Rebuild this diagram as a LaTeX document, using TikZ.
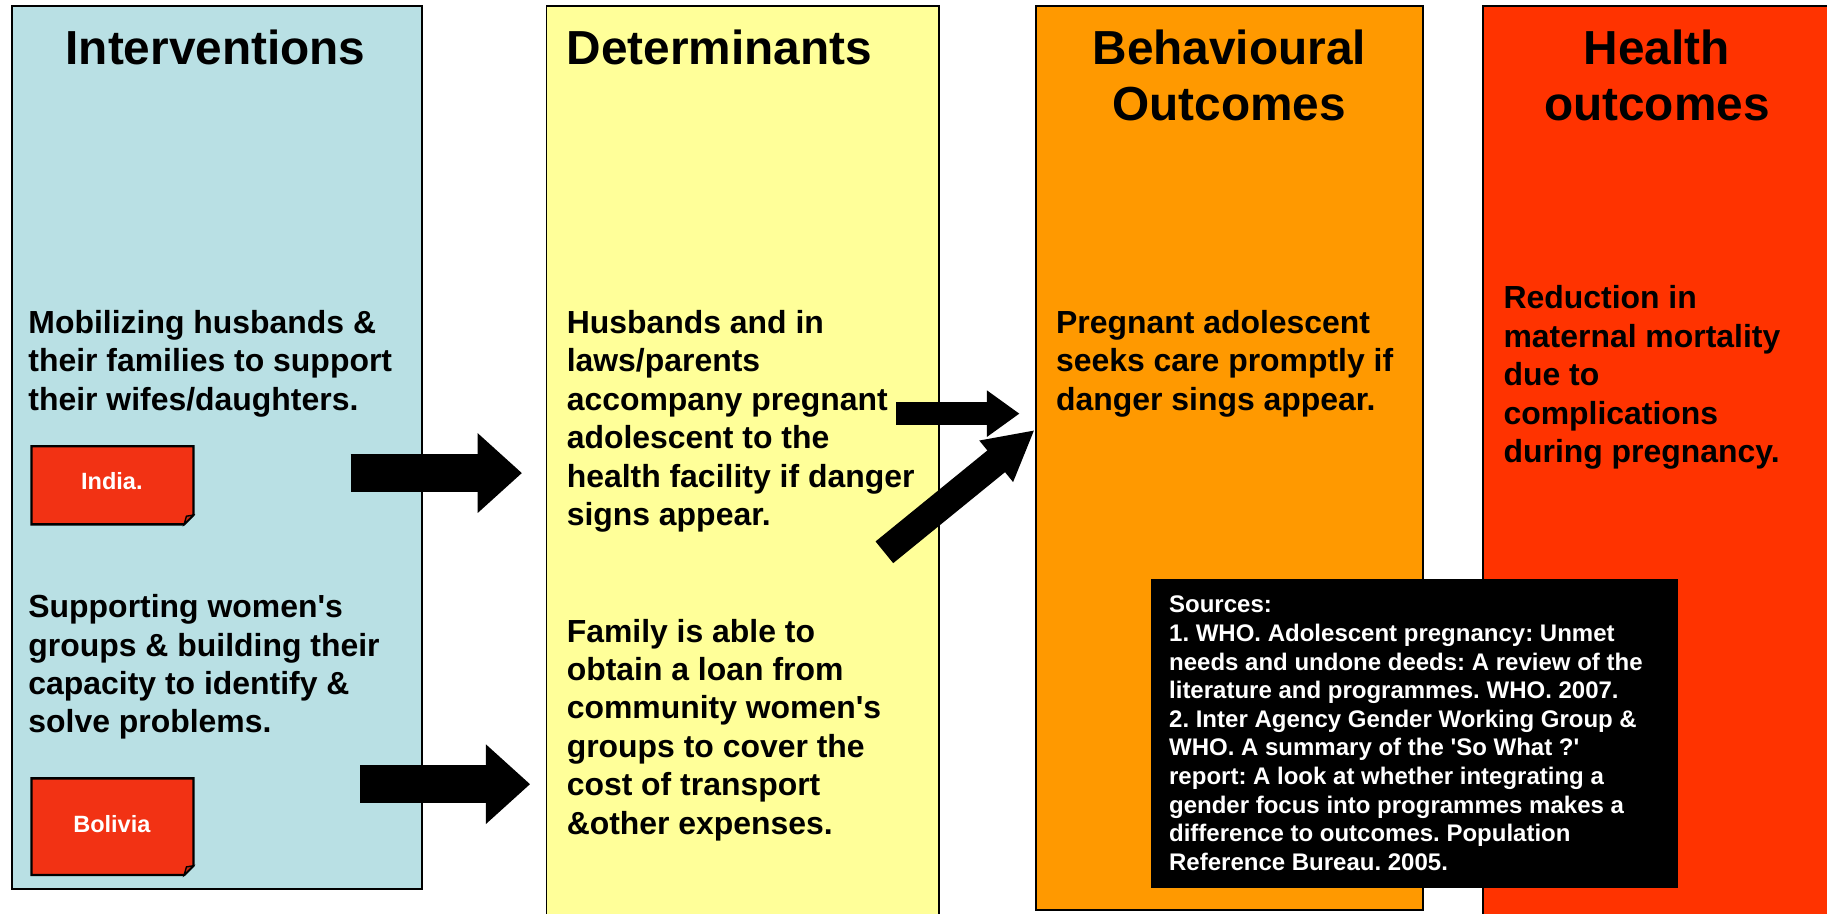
\documentclass[tikz,border=0pt]{standalone}
\usepackage{fontspec}
\setmainfont{Liberation Sans}
\usetikzlibrary{arrows.meta}
\definecolor{cblue}{HTML}{B9E0E4}
\definecolor{cyellow}{HTML}{FFFF99}
\definecolor{corange}{HTML}{FF9900}
\definecolor{cred}{HTML}{FF3300}
\definecolor{csticky}{HTML}{F23214}
\definecolor{cfold}{HTML}{C82810}
\frenchspacing
\begin{document}
\begin{tikzpicture}[x=0.5pt,y=-0.5pt,
  panel/.style={draw=black, line width=0.75pt, rectangle, inner sep=0pt},
  title/.style={inner sep=0pt, anchor=base, align=center, font=\fontsize{20.5pt}{24pt}\selectfont\bfseries},
  body/.style={inner sep=0pt, anchor=base west, align=left, font=\fontsize{13.7pt}{16.5pt}\selectfont\bfseries},
  srctext/.style={inner sep=0pt, anchor=base west, align=left, text=white, font=\fontsize{10.3pt}{12.28pt}\selectfont\bfseries},
  stickylabel/.style={inner sep=0pt, text=white, font=\fontsize{10.1pt}{12pt}\selectfont\bfseries},
  stickyshape/.style={draw=black, line width=1pt, fill=csticky, line join=miter},
  bigarrow/.style={line width=16.5pt, -{Triangle[length=19pt,width=33pt]}},
  midarrow/.style={line width=10pt, -{Triangle[length=14pt,width=19pt]}},
  diagarrow/.style={line width=12pt, -{Triangle[length=21.3pt,width=21.3pt]}}
]
\useasboundingbox (0,0) rectangle (1568,784);
\clip (0,0) rectangle (1568,784);
\fill[white] (0,0) rectangle (1568,784);

% panels
\node[panel, fill=cblue, minimum width=176pt, minimum height=379pt] (pinterv) at (186,384) {};
\node[panel, fill=cyellow, minimum width=168.5pt, minimum height=392.5pt] (pdeterm) at (637.5,397.5) {};
\node[panel, fill=corange, minimum width=166pt, minimum height=388pt] (pbehav) at (1055,393) {};
\node[panel, fill=cred, minimum width=153.5pt, minimum height=397.5pt] (phealth) at (1426.5,402.5) {};

% titles (anchor base = baseline of the last line)
\node[title] (tinterv) at (185,55) {Interventions};
\node[title, anchor=base west] (tdeterm) at (486,55) {Determinants};
\node[title] (tbehav) at (1055,103) {Behavioural\\Outcomes};
\node[title] (thealth) at (1422,103) {Health\\outcomes};

% body texts
\node[body] (mob) at (24,352) {Mobilizing husbands \&\\their families to support\\their wifes/daughters.};
\node[body] (supp) at (24,629) {Supporting women\textquotesingle s\\groups \& building their\\capacity to identify \&\\solve problems.};
\node[body] (det1) at (486,451) {Husbands and in\\laws/parents\\accompany pregnant\\adolescent to the\\health facility if danger\\signs appear.};
\node[body] (det2) at (486,716) {Family is able to\\obtain a loan from\\community women\textquotesingle s\\groups to cover the\\cost of transport\\\&other expenses.};
\node[body] (beh) at (906,352) {Pregnant adolescent\\seeks care promptly if\\danger sings appear.};
\node[body] (hea) at (1290,397) {Reduction in\\maternal mortality\\due to\\complications\\during pregnancy.};

% sticky notes
\draw[stickyshape] (27,383) -- (166,383) -- (166,442) -- (158,450) -- (27,450) -- cycle;
\draw[line width=0.6pt, fill=cfold] (158,450) -- (160,443) -- (166,442) -- cycle;
\node[stickylabel] (india) at (96,413) {India.};
\draw[stickyshape] (27,668) -- (166,668) -- (166,743) -- (158,751) -- (27,751) -- cycle;
\draw[line width=0.6pt, fill=cfold] (158,751) -- (160,744) -- (166,743) -- cycle;
\node[stickylabel] (bolivia) at (96,707) {Bolivia};

% arrows
\coordinate (a1s) at (301,406); \coordinate (a1e) at (448,406);
\coordinate (a2s) at (309,673); \coordinate (a2e) at (455,673);
\coordinate (a3s) at (769,355); \coordinate (a3e) at (875,355);
\coordinate (a4s) at (759,474); \coordinate (a4e) at (888,369);
\draw[bigarrow] (a1s) -- (a1e);
\draw[bigarrow] (a2s) -- (a2e);
\draw[midarrow] (a3s) -- (a3e);
\draw[diagarrow] (a4s) -- (a4e);

% sources box
\node[fill=black, inner sep=0pt, minimum width=226pt, minimum height=132.5pt] (srcbox) at (1214,629.5) {};
\node[srctext] (src) at (1003,747) {Sources:\\1. WHO. Adolescent pregnancy: Unmet\\needs and undone deeds: A review of the\\literature and programmes. WHO. 2007.\\2. Inter Agency Gender Working Group \&\\WHO. A summary of the \textquotesingle So What ?\textquotesingle\\report: A look at whether integrating a\\gender focus into programmes makes a\\difference to outcomes. Population\\Reference Bureau. 2005.};
\end{tikzpicture}
\end{document}
